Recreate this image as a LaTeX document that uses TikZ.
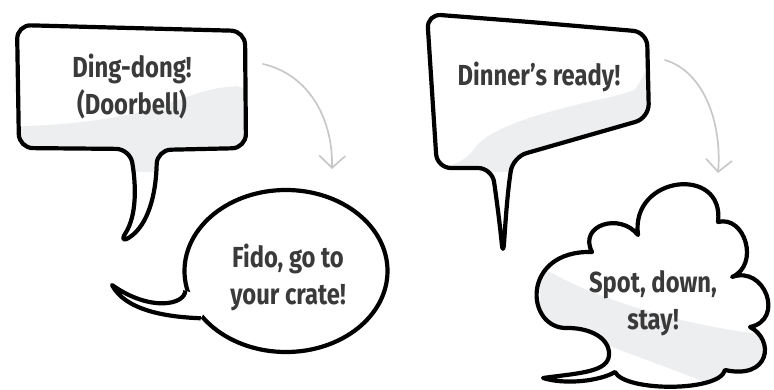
\documentclass[tikz,border=0pt]{standalone}
\usepackage{fontspec}
\newfontfamily\barkfont{Fira Sans}[FakeStretch=0.82]
\usetikzlibrary{arrows.meta, positioning, shapes.geometric}
\definecolor{Ink}{RGB}{58,58,58}
\definecolor{Gloss}{RGB}{237,238,240}
\definecolor{CueGray}{RGB}{200,200,200}
\newcommand{\saying}[3]{% name, position, words
    \node[words] (#1) at (#2) {#3};
}

\begin{document}
\begin{tikzpicture}[x=1pt, y=-1pt,
    bubble/.style={draw=black, line width=4.2pt, fill=white, line join=round},
    gloss/.style={fill=Gloss},
    words/.style={font=\barkfont\bfseries\fontsize{29}{37}\selectfont, text=Ink,
                  align=center, inner sep=0pt},
    cue/.style={draw=CueGray, line width=1.7pt, line cap=round,
                -{Straight Barb[length=12pt, width=26pt]}}]

\useasboundingbox (0,0) rectangle (774,390);

% doorbell
\draw[bubble, rounded corners=14pt,
      path picture={\fill[gloss] (0,127) .. controls (170,122) and (180,88) .. (250,86)
                    -- (250,172) -- (0,172) -- cycle;}]
    (130,28) -- (245,31) -- (246,148) -- (157,150)
    .. controls (156,195) and (148,225) .. (118,245)
    .. controls (137,215) and (136,185) .. (130,149) -- (19,148) -- (17,25) -- cycle;

\coordinate (cueA) at (263,64);
\coordinate (cueB) at (332,169);
\draw[cue] (cueA) .. controls (310,75) and (333,120) .. (cueB);

% fido
\node[ellipse, bubble, minimum width=203pt, minimum height=162pt, inner sep=0pt,
      path picture={\fill[gloss] (180,332) .. controls (260,318) and (350,290) .. (395,235)
                    -- (395,360) -- (180,360) -- cycle;}] (fidobox) at (286,271) {};
\fill[white] (fidobox.191) .. controls (185,305) and (150,312) .. (112,285)
    .. controls (125,310) and (165,317) .. (fidobox.209) -- (212,300) -- cycle;
\draw[bubble, fill=none] (fidobox.191) .. controls (185,305) and (150,312) .. (112,285)
    .. controls (125,310) and (165,317) .. (fidobox.209);

% dinner
\draw[bubble, rounded corners=14pt,
      path picture={\fill[gloss] (430,172) -- (467,160) .. controls (490,125) and (560,108) .. (620,95)
                    .. controls (635,90) and (642,80) .. (652,55) -- (660,172) -- cycle;}]
    (530,22) -- (647,32) -- (649,118) -- (513,157)
    .. controls (507,195) and (505,230) .. (503,257)
    .. controls (500,225) and (496,195) .. (492,168) -- (437,168) -- (427,14) -- cycle;

\coordinate (cueC) at (665,60);
\coordinate (cueD) at (718,173);
\draw[cue] (cueC) .. controls (705,72) and (722,125) .. (cueD);

% spot
\draw[bubble,
      path picture={\fill[gloss] (540,266) .. controls (580,292) and (670,325) .. (775,336)
                    -- (775,395) -- (735,395) .. controls (680,370) and (600,345) .. (540,318) -- cycle;}]
    (592,252) .. controls (578,225) and (620,212) .. (638,235)
    .. controls (630,175) and (725,165) .. (718,222)
    .. controls (745,215) and (760,265) .. (732,277)
    .. controls (765,265) and (785,320) .. (750,327)
    .. controls (775,340) and (770,380) .. (725,370)
    .. controls (720,392) and (625,392) .. (615,372)
    .. controls (600,381) and (565,385) .. (543,378)
    .. controls (580,373) and (608,372) .. (609,355)
    .. controls (610,338) and (590,328) .. (568,328)
    .. controls (525,330) and (520,250) .. (592,252) -- cycle;

\saying{ding}{132,87}{Ding-dong!\\(Doorbell)}
\saying{fido}{288,277}{Fido, go to\\your crate!}
\saying{dinner}{539,77}{Dinner’s ready!}
\saying{spot}{653,303}{Spot, down,\\stay!}

\end{tikzpicture}
\end{document}
